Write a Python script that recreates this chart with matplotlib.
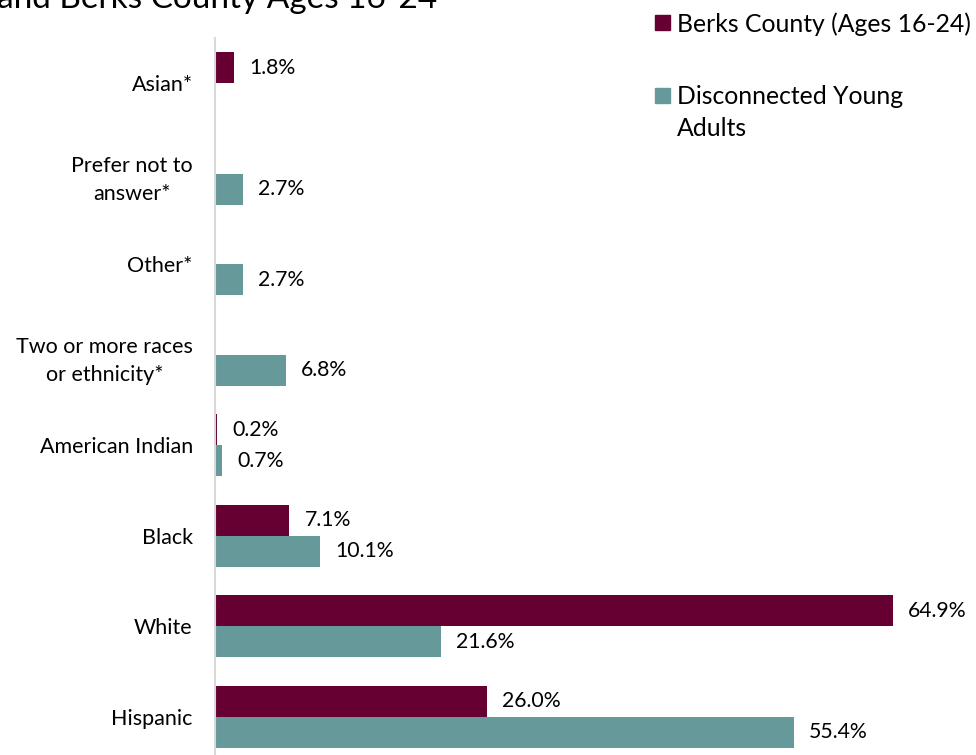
import matplotlib.pyplot as plt
from matplotlib.patches import Rectangle
import numpy as np

plt.rcParams['font.family'] = ['Lato', 'DejaVu Sans']

# data (bottom to top)
categories = ['Hispanic', 'White', 'Black', 'American Indian',
              'Two or more races\nor ethnicity*', 'Other*',
              'Prefer not to\nanswer*', 'Asian*']
berks = [26.0, 64.9, 7.1, 0.2, None, None, None, 1.8]
disconnected = [55.4, 21.6, 10.1, 0.7, 6.8, 2.7, 2.7, None]

maroon = '#660033'
teal = '#669999'

fig = plt.figure(figsize=(9.76, 7.55), dpi=100)
ax = fig.add_axes([0.2203, -0.0093, 0.749, 0.959])

y = np.arange(len(categories))
h = 0.34

for i in range(len(categories)):
    if berks[i] is not None:
        ax.barh(y[i] + h / 2, berks[i], height=h, color=maroon)
        ax.annotate(f'{berks[i]:.1f}%', (berks[i], y[i] + h / 2),
                    xytext=(11, 0), textcoords='offset points',
                    va='center', ha='left', fontsize=15.3)
    if disconnected[i] is not None:
        ax.barh(y[i] - h / 2, disconnected[i], height=h, color=teal)
        ax.annotate(f'{disconnected[i]:.1f}%', (disconnected[i], y[i] - h / 2),
                    xytext=(11, 0), textcoords='offset points',
                    va='center', ha='left', fontsize=15.3)

ax.set_xlim(0, 70)
ax.set_ylim(-0.5, len(categories) - 0.5)
ax.set_yticks(y)
ax.set_yticklabels(categories, fontsize=15.5, linespacing=1.5,
                   multialignment='center')
ax.tick_params(axis='y', length=0, pad=16)
ax.set_xticks([])
for s in ['top', 'right', 'bottom']:
    ax.spines[s].set_visible(False)
ax.spines['left'].set_color('#d9d9d9')
ax.spines['left'].set_linewidth(1.5)

# title (cut off at top in the original)
fig.text(-0.003, 1 - 8 / 755, 'and Berks County Ages 16-24', fontsize=24,
         ha='left', va='baseline')

# legend drawn by hand
W, H = 976, 755
def legend_item(px, py, color, text):
    # py = vertical centre of the first text line, in pixels from the top
    fig.patches.append(Rectangle((px / W, 1 - (py + 8) / H), 15 / W, 15 / H,
                                 transform=fig.transFigure, color=color))
    fig.text((px + 22) / W, 1 - py / H, text, fontsize=17.8,
             va='center_baseline', ha='left', linespacing=1.45)

legend_item(655, 22, maroon, 'Berks County (Ages 16-24)')
fig.patches.append(Rectangle((655 / W, 1 - 103 / H), 15 / W, 15 / H,
                             transform=fig.transFigure, color=teal))
fig.text(677 / W, 1 - 95 / H, 'Disconnected Young', fontsize=17.8,
         va='center_baseline', ha='left')
fig.text(677 / W, 1 - 127 / H, 'Adults', fontsize=17.8,
         va='center_baseline', ha='left')

fig.savefig('out.png', dpi=100)
